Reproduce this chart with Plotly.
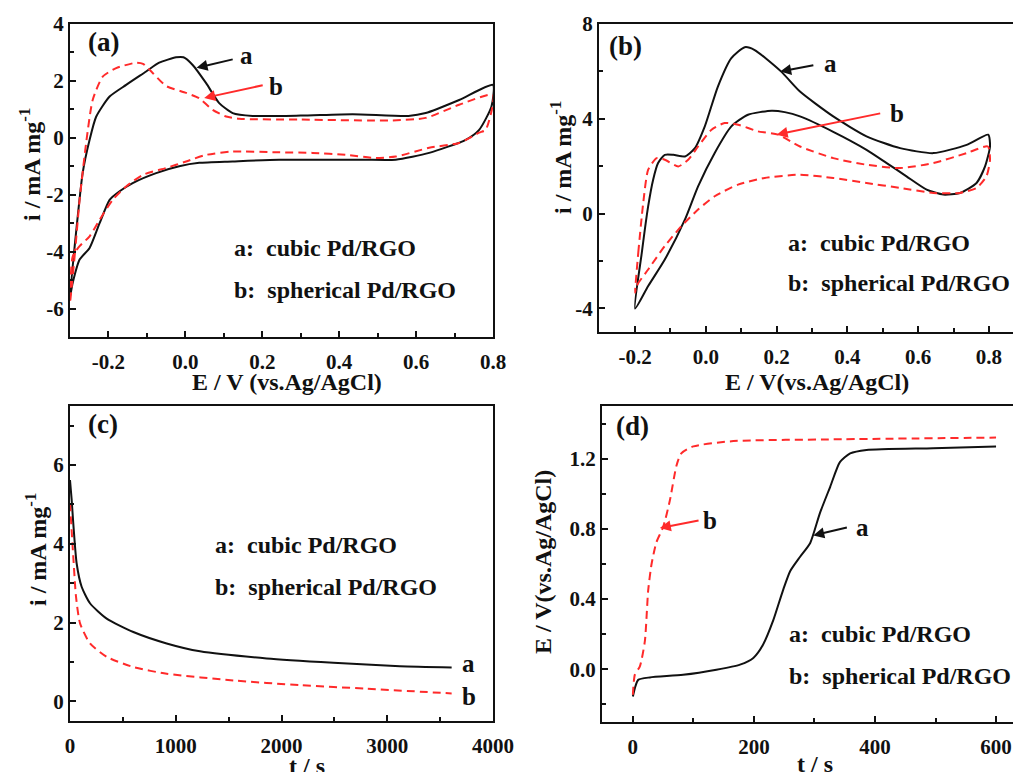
import plotly.graph_objects as go

W, H = 1013, 772

# ---------------- data ----------------
# (a) CV curves
a_cubic_E = [-0.300, -0.284, -0.267, -0.249, -0.232, -0.197, -0.154, -0.102, -0.068, -0.024, -0.005, 0.019,
             0.054, 0.088, 0.123, 0.175, 0.300, 0.435, 0.580, 0.625, 0.712, 0.800, 0.796, 0.764, 0.729, 0.634,
             0.547, 0.460, 0.244, 0.123, 0.036, -0.016, -0.076, -0.137, -0.171, -0.197, -0.223, -0.249, -0.275,
             -0.293, -0.300]
a_cubic_i = [-5.58, -3.30, -1.23, -0.07, 0.74, 1.45, 1.86, 2.33, 2.64, 2.83, 2.83, 2.56,
             1.92, 1.22, 0.87, 0.77, 0.78, 0.83, 0.77, 0.87, 1.33, 1.86, 1.10, 0.28, -0.07, -0.53,
             -0.77, -0.77, -0.77, -0.83, -0.88, -1.00, -1.24, -1.59, -1.88, -2.18, -3.00, -3.87, -4.28,
             -5.10, -5.58]
a_sph_E = [-0.300, -0.288, -0.275, -0.258, -0.241, -0.215, -0.180, -0.128, -0.110, -0.085, -0.050, 0.002,
           0.036, 0.071, 0.106, 0.140, 0.300, 0.538, 0.625, 0.712, 0.800, 0.781, 0.764, 0.712, 0.634, 0.547,
           0.495, 0.417, 0.331, 0.244, 0.123, 0.054, 0.002, -0.050, -0.110, -0.154, -0.189, -0.223, -0.249,
           -0.275, -0.293, -0.300]
a_sph_i = [-5.80, -4.17, -2.18, -0.18, 1.33, 2.15, 2.45, 2.64, 2.60, 2.28, 1.82, 1.58,
           1.39, 0.98, 0.75, 0.67, 0.64, 0.61, 0.70, 1.16, 1.51, 0.28, 0.18, -0.18, -0.35, -0.66,
           -0.71, -0.60, -0.53, -0.51, -0.48, -0.60, -0.83, -1.06, -1.30, -1.71, -2.18, -2.88, -3.46,
           -3.81, -4.17, -5.80]

# (b) CV curves
b_cubic_E = [-0.200, -0.181, -0.163, -0.149, -0.135, -0.116, -0.092, -0.059, -0.031, -0.003, 0.034, 0.072,
             0.110, 0.138, 0.213, 0.266, 0.360, 0.454, 0.549, 0.643, 0.737, 0.798, 0.803, 0.789, 0.765, 0.718,
             0.671, 0.624, 0.567, 0.511, 0.454, 0.360, 0.266, 0.223, 0.186, 0.119, 0.072, 0.025, -0.022, -0.059,
             -0.116, -0.163, -0.200]
b_cubic_i = [-4.01, -1.65, 0.31, 1.43, 2.13, 2.48, 2.48, 2.41, 2.76, 3.68, 5.36, 6.56,
             7.02, 6.90, 5.99, 5.15, 4.10, 3.26, 2.76, 2.55, 2.90, 3.33, 2.83, 1.99, 1.29, 0.87,
             0.80, 1.01, 1.57, 2.13, 2.69, 3.45, 4.10, 4.28, 4.34, 4.17, 3.68, 2.56, 1.15, -0.25,
             -1.94, -3.06, -4.01]
b_sph_E = [-0.200, -0.191, -0.177, -0.163, -0.139, -0.116, -0.078, -0.050, -0.022, 0.016, 0.053, 0.091,
           0.147, 0.204, 0.266, 0.360, 0.454, 0.549, 0.643, 0.737, 0.797, 0.803, 0.793, 0.765, 0.718, 0.643,
           0.549, 0.454, 0.360, 0.266, 0.166, 0.091, 0.025, -0.022, -0.069, -0.116, -0.163, -0.196, -0.200]
b_sph_i = [-3.34, -1.65, 0.45, 1.85, 2.34, 2.27, 1.99, 2.27, 2.83, 3.54, 3.82, 3.75,
           3.47, 3.33, 2.83, 2.34, 2.06, 1.92, 2.13, 2.55, 2.83, 2.27, 1.57, 1.08, 0.87, 0.87,
           1.08, 1.29, 1.50, 1.64, 1.50, 1.22, 0.73, 0.17, -0.53, -1.37, -2.36, -3.06, -3.34]

# (c) chronoamperometry
c_cubic_t = [0, 16, 31, 63, 110, 189, 347, 599, 914, 1229, 1860, 2490, 3120, 3609]
c_cubic_i = [5.62, 5.11, 4.52, 3.50, 2.91, 2.49, 2.10, 1.76, 1.47, 1.27, 1.09, 0.98, 0.89, 0.86]
c_sph_t = [0, 31, 57, 95, 189, 347, 599, 914, 1545, 2175, 2806, 3609]
c_sph_i = [5.03, 3.67, 2.65, 1.98, 1.47, 1.13, 0.87, 0.70, 0.53, 0.41, 0.32, 0.20]

# (d) chronopotentiometry
d_cubic_t = [0, 3.3, 8.8, 28, 83, 138, 177, 199, 215, 232, 248, 260, 276, 293, 309, 326, 342, 359, 386, 496, 600]
d_cubic_E = [-0.155, -0.107, -0.060, -0.046, -0.031, -0.002, 0.027, 0.065, 0.14, 0.28, 0.45, 0.56, 0.64, 0.72,
             0.89, 1.04, 1.18, 1.23, 1.25, 1.26, 1.27]
d_sph_t = [0, 3.3, 11.6, 19.8, 25.3, 30.9, 39, 50, 61, 72, 80, 100, 166, 331, 600]
d_sph_E = [-0.145, -0.030, 0.017, 0.16, 0.45, 0.60, 0.725, 0.81, 0.96, 1.16, 1.23, 1.27, 1.30, 1.31, 1.32]

# tick labels
a_xticks = [-0.2, 0.0, 0.2, 0.4, 0.6, 0.8]
a_xlabels = ["-0.2", "0.0", "0.2", "0.4", "0.6", "0.8"]
a_yticks = [4, 2, 0, -2, -4, -6]
a_ylabels = ["4", "2", "0", "-2", "-4", "-6"]
b_xticks = [-0.2, 0.0, 0.2, 0.4, 0.6, 0.8]
b_xlabels = ["-0.2", "0.0", "0.2", "0.4", "0.6", "0.8"]
b_yticks = [8, 4, 0, -4]
b_ylabels = ["8", "4", "0", "-4"]
c_xticks = [0, 1000, 2000, 3000, 4000]
c_xlabels = ["0", "1000", "2000", "3000", "4000"]
c_yticks = [0, 2, 4, 6]
c_ylabels = ["0", "2", "4", "6"]
d_xticks = [0, 200, 400, 600]
d_xlabels = ["0", "200", "400", "600"]
d_yticks = [0.0, 0.4, 0.8, 1.2]
d_ylabels = ["0.0", "0.4", "0.8", "1.2"]

legend_a = "a:\u00a0\u00a0cubic Pd/RGO"
legend_b = "b:\u00a0\u00a0spherical Pd/RGO"

# ---------------- styling ----------------
FONT = "Liberation Serif"
BLACK = "#111111"
RED = "#ff2a2a"
DASH = "8px,5px"

fig = go.Figure()

def px2x(p):
    return p / W

def px2y(p):
    return 1 - p / H

def add_line(x, y, xa, ya, dashed, color):
    fig.add_trace(go.Scatter(
        x=x, y=y, xaxis=xa, yaxis=ya, mode="lines",
        line=dict(color=color, width=2, dash=DASH if dashed else "solid",
                  shape="spline", smoothing=0.6),
        showlegend=False, hoverinfo="skip"))

add_line(a_cubic_E, a_cubic_i, "x", "y", False, BLACK)
add_line(a_sph_E, a_sph_i, "x", "y", True, RED)
add_line(b_cubic_E, b_cubic_i, "x2", "y2", False, BLACK)
add_line(b_sph_E, b_sph_i, "x2", "y2", True, RED)
add_line(c_cubic_t, c_cubic_i, "x3", "y3", False, BLACK)
add_line(c_sph_t, c_sph_i, "x3", "y3", True, RED)
add_line(d_cubic_t, d_cubic_E, "x4", "y4", False, BLACK)
add_line(d_sph_t, d_sph_E, "x4", "y4", True, RED)

tickfont = dict(family=FONT, size=21, color=BLACK, weight="bold")

def xaxis(dom, rng, tv, tt, mdt, anchor):
    return dict(domain=dom, range=rng, tickvals=tv, ticktext=tt, ticks="inside", ticklen=6, tickwidth=2,
                tickcolor=BLACK, showline=True, linewidth=2, linecolor=BLACK, mirror=True,
                showgrid=False, zeroline=False, tickfont=tickfont, ticklabelstandoff=5, automargin=False,
                minor=dict(dtick=mdt, tick0=0, ticks="inside", ticklen=4, tickwidth=2, tickcolor=BLACK, showgrid=False),
                anchor=anchor, fixedrange=True)

def yaxis(dom, rng, tv, tt, mdt, anchor, mirror=True):
    return dict(domain=dom, range=rng, tickvals=tv, ticktext=tt, ticks="inside", ticklen=6, tickwidth=2,
                tickcolor=BLACK, showline=True, linewidth=2, linecolor=BLACK, mirror=mirror,
                showgrid=False, zeroline=False, tickfont=tickfont, ticklabelstandoff=0, automargin=False,
                minor=dict(dtick=mdt, tick0=0, ticks="inside", ticklen=4, tickwidth=2, tickcolor=BLACK, showgrid=False),
                anchor=anchor, fixedrange=True)

fig.update_layout(
    width=W, height=H, margin=dict(l=0, r=0, t=0, b=0, autoexpand=False),
    paper_bgcolor="white", plot_bgcolor="white",
    xaxis=xaxis([px2x(70), px2x(493)], [-0.3, 0.8], a_xticks, a_xlabels, 0.1, "y"),
    yaxis=yaxis([px2y(337), px2y(24)], [-7, 4], a_yticks, a_ylabels, 1, "x"),
    xaxis2=xaxis([px2x(599), 1.0], [-0.302, 0.868], b_xticks, b_xlabels, 0.1, "y2"),
    yaxis2=yaxis([px2y(332), px2y(24)], [-5, 8], b_yticks, b_ylabels, 2, "x2", mirror=False),
    xaxis3=xaxis([px2x(70), px2x(493)], [0, 4000], c_xticks, c_xlabels, 500, "y3"),
    yaxis3=yaxis([px2y(721), px2y(406)], [-0.5, 7.5], c_yticks, c_ylabels, 1, "x3"),
    xaxis4=xaxis([px2x(602), 1.0], [-51, 628], d_xticks, d_xlabels, 100, "y4"),
    yaxis4=yaxis([px2y(722), px2y(406)], [-0.3, 1.5], d_yticks, d_ylabels, 0.2, "x4", mirror=False),
)

ann = []

def text_px(txt, x, y, size=24, angle=0, xanchor="center"):
    ann.append(dict(text=txt, x=px2x(x), y=px2y(y), xref="paper", yref="paper", showarrow=False,
                    xanchor=xanchor, yanchor="middle", textangle=angle,
                    font=dict(family=FONT, size=size, color=BLACK, weight="bold")))

# axis titles
text_px("E / V (vs.Ag/AgCl)", 287, 382)
text_px("i / mA mg<sup>-1</sup>", 30, 165, angle=-90)
text_px("E / V(vs.Ag/AgCl)", 817, 382)
text_px("i / mA mg<sup>-1</sup>", 561, 158, angle=-90)
text_px("t / s", 307, 766)
text_px("i / mA mg<sup>-1</sup>", 36, 550, angle=-90)
text_px("t / s", 815, 764)
text_px("E / V(vs.Ag/AgCl)", 543, 562, angle=-90)

# panel labels
text_px("(a)", 86, 42, size=27, xanchor="left")
text_px("(b)", 607, 46, size=27, xanchor="left")
text_px("(c)", 86, 424, size=27, xanchor="left")
text_px("(d)", 614, 426, size=27, xanchor="left")

# legend texts
text_px(legend_a, 232, 248, xanchor="left")
text_px(legend_b, 232, 290, xanchor="left")
text_px(legend_a, 786, 243, xanchor="left")
text_px(legend_b, 786, 283, xanchor="left")
text_px(legend_a, 213, 545, xanchor="left")
text_px(legend_b, 213, 587, xanchor="left")
text_px(legend_a, 787, 634, xanchor="left")
text_px(legend_b, 787, 676, xanchor="left")

def arrow(xa, ya, tip, tail, color):
    ann.append(dict(text="", x=tip[0], y=tip[1], ax=tail[0], ay=tail[1], xref=xa, yref=ya,
                    axref=xa, ayref=ya, showarrow=True, arrowhead=2, arrowsize=1.1, arrowwidth=2,
                    arrowcolor=color, standoff=0, startstandoff=0))

def label(xa, ya, pos, txt):
    ann.append(dict(text=txt, x=pos[0], y=pos[1], xref=xa, yref=ya, showarrow=False,
                    xanchor="center", yanchor="middle",
                    font=dict(family=FONT, size=25, color=BLACK, weight="bold")))

# (a)
arrow("x", "y", (0.029, 2.46), (0.127, 2.77), BLACK)
label("x", "y", (0.158, 2.88), "a")
arrow("x", "y", (0.049, 1.40), (0.205, 1.86), RED)
label("x", "y", (0.236, 1.79), "b")
# (b)
arrow("x2", "y2", (0.21, 5.99), (0.308, 6.27), BLACK)
label("x2", "y2", (0.351, 6.35), "a")
arrow("x2", "y2", (0.20, 3.33), (0.497, 4.24), RED)
label("x2", "y2", (0.539, 4.24), "b")
# (c)
label("x3", "y3", (3764, 0.97), "a")
label("x3", "y3", (3773, 0.13), "b")
# (d)
arrow("x4", "y4", (44.6, 0.805), (111, 0.85), RED)
label("x4", "y4", (127, 0.845), "b")
arrow("x4", "y4", (298, 0.763), (356, 0.81), BLACK)
label("x4", "y4", (380, 0.81), "a")

fig.update_layout(annotations=ann)

fig.write_html("out.html", config={"displayModeBar": False},
               post_script="document.body.style.margin='0px';document.body.style.overflow='hidden';")
